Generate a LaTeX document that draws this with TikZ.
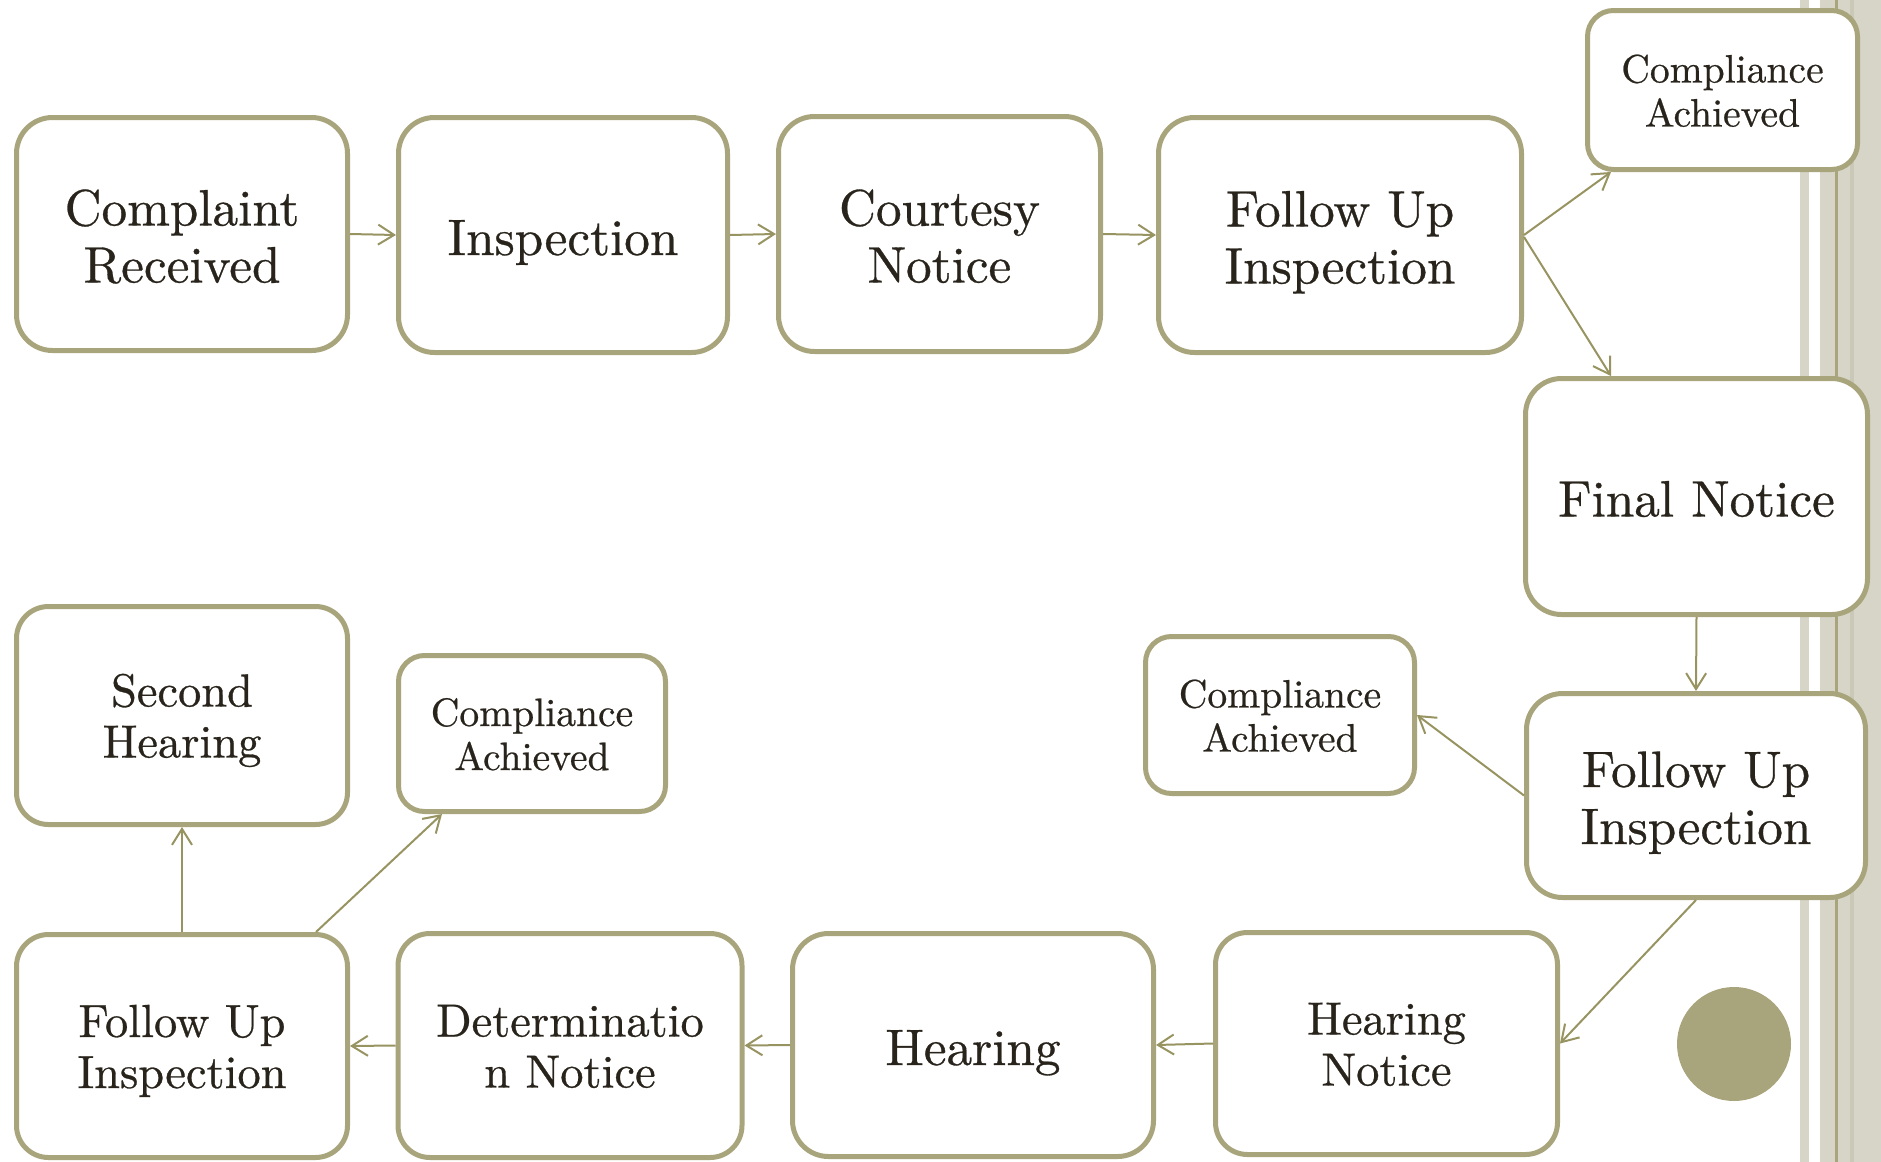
\documentclass[tikz,border=0pt]{standalone}
\usepackage{fontspec}
\newfontfamily\boxfont{lmroman10-regular.otf}[FakeBold=0.6]
\usetikzlibrary{arrows.meta,calc}
\definecolor{boxc}{RGB}{168,165,124}
\definecolor{arrc}{RGB}{152,148,98}
\definecolor{txtc}{RGB}{40,36,28}
\definecolor{stripec}{RGB}{214,213,199}
\definecolor{stripedk}{RGB}{202,201,184}
\newcommand\bst{\rule[-6pt]{0pt}{32pt}}
\newcommand\mst{\rule[-5.5pt]{0pt}{27.5pt}}
\newcommand\sst{\rule[-5pt]{0pt}{24.5pt}}
\tikzset{
  box/.style={draw=boxc, line width=2.5pt, fill=white, rounded corners=18pt, inner sep=0pt, align=center, text=txtc},
  bigbox/.style={box, font=\boxfont\fontsize{25.6}{28.5}\selectfont},
  midbox/.style={box, font=\boxfont\fontsize{23.2}{25.5}\selectfont, rounded corners=16pt},
  smallbox/.style={box, font=\boxfont\fontsize{19.8}{22}\selectfont, rounded corners=13pt},
  arr/.style={draw=arrc, line width=1pt, -{Straight Barb[length=8pt,width=10pt,line width=1pt]}}
}
\begin{document}
\begin{tikzpicture}[x=0.5pt,y=-0.5pt]
\lineskiplimit=-1000pt
\useasboundingbox (0,0) rectangle (1881,1162);
\fill[white] (0,0) rectangle (1881,1162);
% right stripes
\fill[stripec] (1800,0) rectangle (1809,1162);
\fill[stripec] (1820,0) rectangle (1881,1162);
\fill[stripedk] (1850,0) rectangle (1854,1162);
\fill[boxc] (1835,0) rectangle (1838,1162);
% circle
\fill[boxc] (1734,1044) circle (28.5pt);
% boxes
\node[bigbox, minimum width=165.5pt, minimum height=116.5pt] (cr) at (182,234) {\bst Complaint\\Received\bst};
\node[bigbox, minimum width=164.5pt, minimum height=117.5pt] (insp) at (563,235) {\bst Inspection\bst};
\node[bigbox, minimum width=161pt, minimum height=117.5pt] (court) at (939.5,234) {\bst Courtesy\\Notice\bst};
\node[bigbox, minimum width=181.5pt, minimum height=117.5pt] (fu1) at (1340,235) {\bst Follow Up\\Inspection\bst};
\node[smallbox, minimum width=135pt, minimum height=79.5pt] (ca1) at (1722.5,90) {\sst Compliance\\Achieved\sst};
\node[bigbox, minimum width=171pt, minimum height=118pt] (final) at (1696.5,496.5) {\bst Final Notice\bst};
\node[bigbox, minimum width=169.5pt, minimum height=102pt] (fu2) at (1696,795.5) {\bst Follow Up\\Inspection\bst};
\node[smallbox, minimum width=134.5pt, minimum height=78.5pt] (ca2) at (1280,715) {\sst Compliance\\Achieved\sst};
\node[midbox, minimum width=171pt, minimum height=111pt] (hn) at (1386.5,1043.5) {\mst Hearing\\Notice\mst};
\node[bigbox, minimum width=180.5pt, minimum height=111.5pt] (hear) at (973,1045) {\bst Hearing\bst};
\node[midbox, minimum width=172pt, minimum height=112pt] (det) at (570,1045.5) {\mst Determinatio\\n Notice\mst};
\node[midbox, minimum width=165.5pt, minimum height=111.5pt] (fu3) at (182,1046) {\mst Follow Up\\Inspection\mst};
\node[midbox, minimum width=165.5pt, minimum height=109pt] (sh) at (182,715.5) {\mst Second\\Hearing\mst};
\node[smallbox, minimum width=133.5pt, minimum height=78pt] (ca3) at (532,733.5) {\sst Compliance\\Achieved\sst};
% connectors
\draw[arr] (cr.east) -- (insp.west);
\draw[arr] (insp.east) -- (court.west);
\draw[arr] (court.east) -- (fu1.west);
\draw[arr] (fu1.east) -- ($(ca1.south west)+(26,0)$);
\draw[arr] ($(fu1.east)+(0,2)$) -- ($(final.north west)+(88,0)$);
\draw[arr] (final.south) -- (fu2.north);
\draw[arr] (fu2.west) -- (ca2.east);
\draw[arr] (fu2.south) -- (hn.east);
\draw[arr] (hn.west) -- (hear.east);
\draw[arr] (hear.west) -- (det.east);
\draw[arr] (det.west) -- (fu3.east);
\draw[arr] (fu3.north) -- (sh.south);
\draw[arr] ($(fu3.north east)+(-34,0)$) -- ($(ca3.south west)+(46,0)$);
\end{tikzpicture}
\end{document}
